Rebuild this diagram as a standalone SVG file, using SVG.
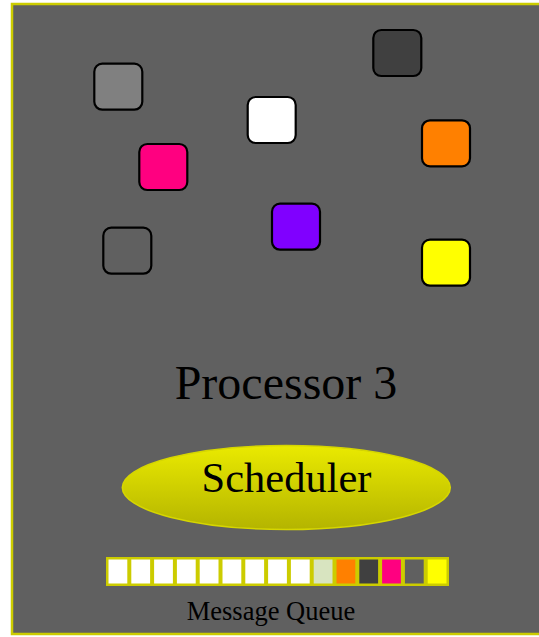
<svg xmlns="http://www.w3.org/2000/svg" width="539" height="637" viewBox="0 0 539 637">
<defs>
<linearGradient id="schedGrad" x1="0" y1="0" x2="0" y2="1">
<stop offset="0" stop-color="#eaea00"/>
<stop offset="1" stop-color="#b4b400"/>
</linearGradient>
</defs>
<style>
.task{stroke:#000;stroke-width:2.2}
.cell{stroke:#cccc00;stroke-width:2}
.lbl{font-family:"Liberation Serif",serif;fill:#000;text-anchor:middle}
</style>
<rect width="539" height="637" fill="#fff"/>
<g id="processor">
<rect x="12" y="4" width="540" height="630" fill="#606060" stroke="#cccc00" stroke-width="2.5"/>
<text class="lbl" x="286" y="399" font-size="48">Processor 3</text>
</g>
<g id="task-gray"><rect class="task" x="94.3" y="63.7" width="48" height="46" rx="8" fill="#808080"/></g>
<g id="task-dark"><rect class="task" x="373.3" y="30" width="48" height="46" rx="8" fill="#404040"/></g>
<g id="task-white"><rect class="task" x="247.7" y="97" width="48" height="46" rx="8" fill="#ffffff"/></g>
<g id="task-orange"><rect class="task" x="422" y="120.3" width="48" height="46" rx="8" fill="#ff8000"/></g>
<g id="task-pink"><rect class="task" x="139.3" y="144" width="48" height="46" rx="8" fill="#ff0080"/></g>
<g id="task-purple"><rect class="task" x="272" y="203.7" width="48" height="46" rx="8" fill="#8000ff"/></g>
<g id="task-bg"><rect class="task" x="103.3" y="227.7" width="48" height="46" rx="8" fill="#606060"/></g>
<g id="task-yellow"><rect class="task" x="422" y="239.7" width="48" height="46" rx="8" fill="#ffff00"/></g>
<g id="scheduler">
<ellipse cx="286.3" cy="487.5" rx="164" ry="42" fill="url(#schedGrad)" stroke="#d6d600" stroke-width="1.5"/>
<text class="lbl" x="286.5" y="492" font-size="42.5">Scheduler</text>
</g>
<g id="queue">
<rect x="106" y="557" width="343" height="29" fill="#cccc00"/>
<rect class="cell" x="107.5" y="558.5" width="20.8" height="26" fill="#fff"/>
<rect class="cell" x="130.3" y="558.5" width="20.8" height="26" fill="#fff"/>
<rect class="cell" x="153.1" y="558.5" width="20.8" height="26" fill="#fff"/>
<rect class="cell" x="175.9" y="558.5" width="20.8" height="26" fill="#fff"/>
<rect class="cell" x="198.7" y="558.5" width="20.8" height="26" fill="#fff"/>
<rect class="cell" x="221.5" y="558.5" width="20.8" height="26" fill="#fff"/>
<rect class="cell" x="244.3" y="558.5" width="20.8" height="26" fill="#fff"/>
<rect class="cell" x="267.1" y="558.5" width="20.8" height="26" fill="#fff"/>
<rect class="cell" x="289.9" y="558.5" width="20.8" height="26" fill="#fff"/>
<rect class="cell" x="312.7" y="558.5" width="20.8" height="26" fill="#d8e4c0"/>
<rect class="cell" x="335.5" y="558.5" width="20.8" height="26" fill="#ff8000"/>
<rect class="cell" x="358.3" y="558.5" width="20.8" height="26" fill="#404040"/>
<rect class="cell" x="381.1" y="558.5" width="20.8" height="26" fill="#ff0080"/>
<rect class="cell" x="403.9" y="558.5" width="20.8" height="26" fill="#606060"/>
<rect class="cell" x="426.7" y="558.5" width="20.8" height="26" fill="#ffff00"/>
<text class="lbl" x="271" y="619.5" font-size="26.5">Message Queue</text>
</g>
</svg>
